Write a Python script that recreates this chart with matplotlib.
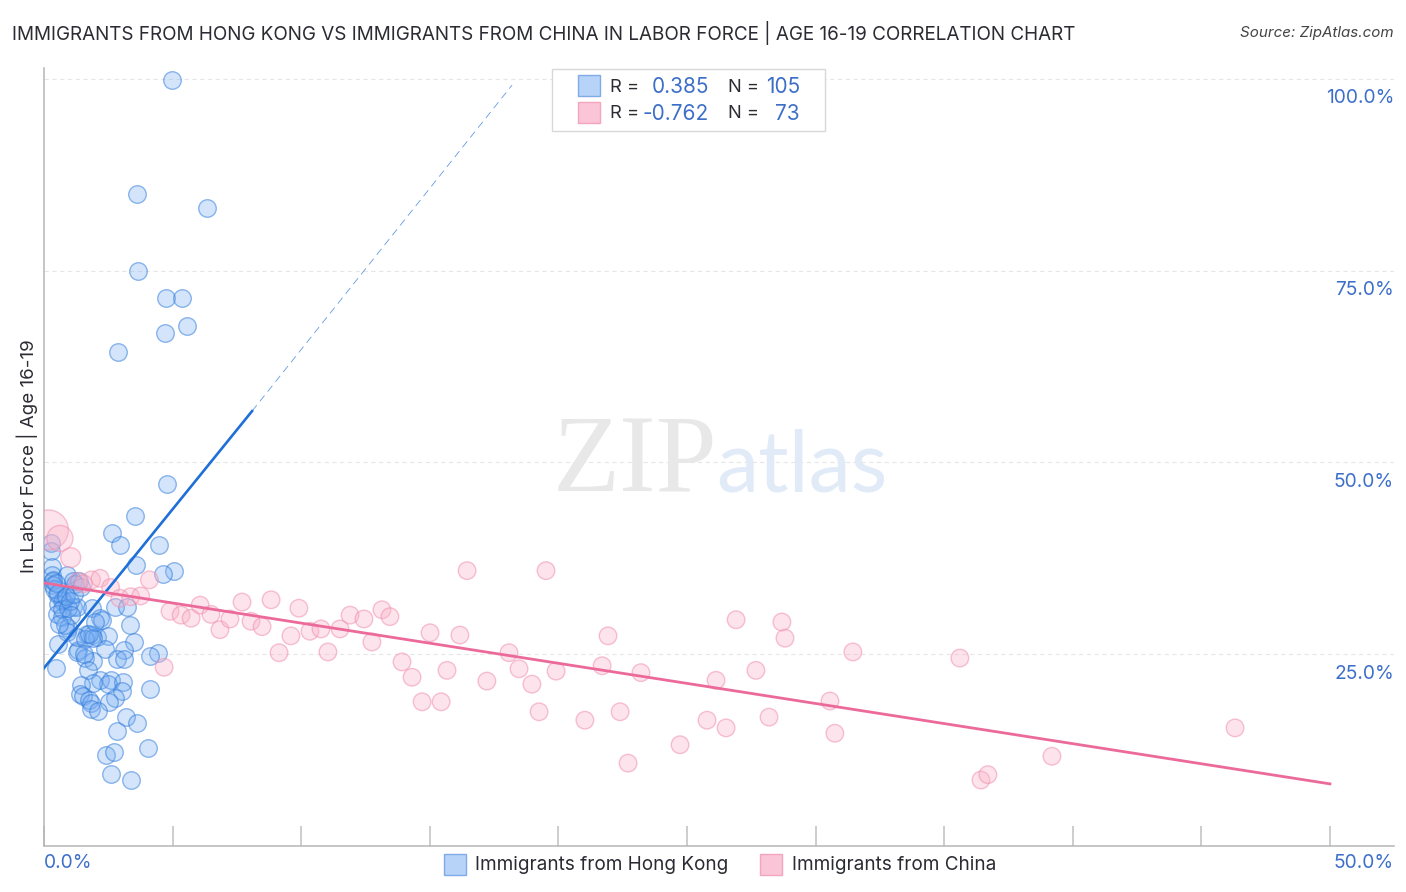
"""Correlation chart: Hong Kong vs China immigrants, labor force age 16-19."""

import matplotlib.pyplot as plt
import matplotlib.patches as mpatches
import numpy as np

plt.rcParams['font.family'] = ['Inter', 'DejaVu Sans']

W, H = 1406, 892

hk_x = [4.98, 3.62, 6.34, 3.65, 4.74, 5.37, 4.70, 5.56, 2.88, 4.78,
        3.54, 2.66, 2.96, 4.46, 3.59, 5.04, 4.61, 0.26, 0.26, 0.30,
        0.30, 0.34, 0.36, 0.36, 0.88, 1.14, 1.37, 1.21, 0.49, 0.82,
        0.75, 0.69, 0.56, 1.14, 1.27, 2.76, 3.24, 1.85, 0.49, 0.69,
        0.95, 0.88, 2.18, 2.24, 3.34, 1.66, 1.85, 2.05, 2.50, 3.50,
        0.56, 1.33, 1.27, 2.37, 3.11, 4.45, 4.12, 2.83, 3.11, 1.59,
        1.92, 0.47, 1.70, 2.18, 2.59, 2.50, 3.06, 1.89, 1.44, 1.40,
        1.50, 3.02, 2.76, 2.54, 4.12, 1.76, 1.81, 1.83, 2.11, 3.19,
        3.63, 2.85, 4.06, 2.41, 2.72, 2.60, 3.38, 0.40, 0.55, 0.70,
        0.95, 0.85, 1.00, 1.15, 1.05, 0.80, 1.30, 1.60, 1.90, 1.75,
        2.00, 1.45, 1.55, 0.60, 0.45]
hk_y = [99.9, 85.0, 83.2, 75.0, 71.4, 71.4, 66.9, 67.8, 64.4, 47.2,
        43.0, 40.8, 39.3, 39.3, 36.6, 35.9, 35.5, 39.5, 38.4, 36.4,
        35.3, 34.5, 34.7, 34.0, 35.3, 34.5, 34.5, 34.2, 32.9, 32.3,
        32.1, 31.9, 31.6, 31.2, 31.2, 31.1, 31.1, 31.0, 30.3, 29.9,
        28.4, 27.9, 29.7, 29.5, 28.8, 27.7, 27.5, 27.3, 27.4, 26.6,
        26.3, 25.6, 25.3, 25.7, 25.6, 25.2, 24.8, 24.4, 24.4, 24.5,
        24.1, 23.2, 22.9, 21.6, 21.7, 21.1, 21.4, 21.2, 21.0, 19.8,
        19.5, 20.2, 19.3, 18.8, 20.5, 19.0, 18.6, 17.9, 17.6, 16.8,
        16.1, 15.0, 12.8, 11.9, 12.2, 9.4, 8.6, 33.5, 33.0, 30.9,
        31.0, 32.6, 32.0, 32.8, 30.1, 28.8, 27.2, 27.0, 27.1, 27.6,
        29.2, 33.8, 25.0, 29.0, 34.3]

china_x = [0.17, 0.62, 1.04, 1.85, 2.18, 2.59, 2.95, 3.37, 3.76, 4.10,
           1.33, 1.53, 4.90, 5.33, 5.72, 6.07, 6.49, 6.84, 4.67, 7.70,
           8.05, 7.23, 8.48, 8.83, 9.14, 9.60, 9.91, 10.34, 10.77, 11.04,
           11.51, 11.90, 12.44, 12.75, 13.14, 13.45, 13.92, 14.31, 14.70, 15.01,
           15.44, 15.67, 16.17, 16.45, 17.22, 18.08, 18.47, 18.97, 19.25, 19.52,
           19.91, 21.03, 21.70, 21.93, 22.40, 22.71, 23.21, 24.73, 25.78, 26.13,
           26.52, 26.91, 27.68, 28.19, 28.69, 28.81, 30.56, 30.75, 31.45, 35.61,
           36.43, 36.70, 39.19, 46.31]
china_y = [41.2, 40.1, 37.6, 34.7, 34.9, 33.7, 32.3, 32.5, 32.6, 34.7,
           34.5, 34.2, 30.6, 30.1, 29.7, 31.4, 30.2, 28.2, 23.3, 31.8,
           29.3, 29.6, 28.6, 32.1, 25.2, 27.4, 31.0, 28.0, 28.3, 25.3,
           28.3, 30.1, 29.6, 26.6, 30.8, 29.9, 24.0, 22.0, 18.8, 27.8,
           18.8, 22.9, 27.5, 35.9, 21.5, 25.2, 23.1, 21.1, 17.5, 35.9,
           22.8, 16.4, 23.5, 27.4, 17.5, 10.8, 22.6, 13.2, 16.4, 21.6,
           15.4, 29.5, 22.9, 16.8, 29.2, 27.1, 18.9, 14.7, 25.3, 24.5,
           8.6, 9.3, 11.7, 15.4]

# trend lines, endpoints
hk_solid_x = [0.0, 8.09]
hk_solid_y = [23.2, 56.7]
hk_dash_x = [8.09, 18.2]
hk_dash_y = [56.7, 99.2]
china_line_x = [0.0, 50.0]
china_line_y = [34.3, 8.1]

y_grid = [25, 50, 75, 100]
y_labels = ["25.0%", "50.0%", "75.0%", "100.0%"]
x_ticks = [0, 5, 10, 15, 20, 25, 30, 35, 40, 45, 50]

BLUE_TXT = '#3d6fc9'
DARK = '#2b2b33'
BLUE_LINE = '#1f6fd8'
PINK_LINE = '#ec6a9a'


def fx(px):
    return px / W


def fy(py):
    return 1 - py / H


fig = plt.figure(figsize=(W / 100, H / 100), dpi=100)
ax = fig.add_axes([fx(44), fy(846), (1394 - 44) / W, (846 - 68) / H])
ax.set_xlim(0, 52.49)
ax.set_ylim(0, 101.43)

for s in ['top', 'right']:
    ax.spines[s].set_visible(False)
for s in ['left', 'bottom']:
    ax.spines[s].set_color('#b5b5b5')
    ax.spines[s].set_linewidth(1.1)

ax.set_xticks(x_ticks)
ax.set_xticklabels([])
ax.set_yticks([])
ax.tick_params(axis='x', direction='in', length=14.4, width=1.1, color='#c0c0c0')

for v in y_grid:
    ax.axhline(v, color='#e6e6e6', linewidth=0.8, linestyle=(0, (4, 3)), zorder=1)

# watermark
fig.text(fx(635), fy(491), "ZIP", fontsize=79, family='Liberation Serif',
         color='#e8e8e8', ha='center', va='baseline', zorder=0)
fig.text(fx(802), fy(491), "atlas", fontsize=61, family='Lato',
         color='#e1ebf8', ha='center', va='baseline', zorder=0)

china_sizes = np.full(len(china_x), 160.0)
china_sizes[0] = 830
china_sizes[1] = 350
china_sizes[2] = 205

ax.scatter(hk_x, hk_y, s=160, facecolor=(0.45, 0.67, 0.95, 0.30),
           edgecolor=(0.18, 0.48, 0.86, 0.52), linewidth=1.0, zorder=3)
ax.scatter(china_x, china_y, s=china_sizes, facecolor=(0.98, 0.70, 0.79, 0.36),
           edgecolor=(0.94, 0.55, 0.68, 0.52), linewidth=1.0, zorder=3)

ax.plot(hk_solid_x, hk_solid_y, color=BLUE_LINE, linewidth=1.9, zorder=4)
ax.plot(hk_dash_x, hk_dash_y, color=BLUE_LINE, linewidth=0.6,
        linestyle=(0, (9, 6)), alpha=0.7, zorder=4)
ax.plot(china_line_x, china_line_y, color=PINK_LINE, linewidth=2.0, zorder=4)

# right hand labels sit just under their gridlines
for v, lab in zip(y_grid, y_labels):
    ax.annotate(lab, xy=(1, v), xycoords=ax.get_yaxis_transform(), xytext=(0, -14),
                textcoords='offset points', ha='right', va='center',
                fontsize=13.8, color=BLUE_TXT)

fig.text(fx(44), fy(863), "0.0%", fontsize=13.8, color=BLUE_TXT, ha='left', va='center')
fig.text(fx(1394), fy(863), "50.0%", fontsize=13.8, color=BLUE_TXT, ha='right', va='center')

fig.text(fx(12), fy(33), "IMMIGRANTS FROM HONG KONG VS IMMIGRANTS FROM CHINA IN LABOR FORCE | AGE 16-19 CORRELATION CHART",
         fontsize=13.61, color=DARK, ha='left', va='center')
fig.text(fx(1394), fy(33), "Source: ZipAtlas.com", fontsize=10.9, style='italic',
         color='#444444', ha='right', va='center')
fig.text(fx(27), fy(456), "In Labor Force | Age 16-19", fontsize=13.5, color=DARK,
         rotation=90, ha='center', va='center')

# stats box
fig.add_artist(mpatches.Rectangle((fx(551.5), fy(130.5)), 273 / W, 62 / H, transform=fig.transFigure,
                                  facecolor='white', edgecolor='#d8d8d8', linewidth=1.0, zorder=5))


def swatch(px, py, face, edge):
    fig.add_artist(mpatches.Rectangle((fx(px), fy(py + 21)), 22 / W, 21 / H, transform=fig.transFigure,
                                      facecolor=face, edgecolor=edge, linewidth=1.0, zorder=6))


swatch(578, 75, '#b7d3f8', '#7fabe6')
swatch(578, 102, '#fbc5d8', '#f3a5c0')
for py, r_val, n_val in [(87, "0.385", "105"), (114, "-0.762", "73")]:
    fig.text(fx(610), fy(py), "R =", fontsize=13.2, color=DARK, va='center', zorder=7)
    fig.text(fx(709), fy(py), r_val, fontsize=15, color=BLUE_TXT, ha='right', va='center', zorder=7)
    fig.text(fx(728), fy(py), "N =", fontsize=13.2, color=DARK, va='center', zorder=7)
    fig.text(fx(800), fy(py), n_val, fontsize=15, color=BLUE_TXT, ha='right', va='center', zorder=7)

# bottom legend
swatch(444, 854, '#b7d3f8', '#7fabe6')
swatch(760, 854, '#fbc5d8', '#f3a5c0')
fig.text(fx(475), fy(865), "Immigrants from Hong Kong", fontsize=13.65, color=DARK, va='center')
fig.text(fx(792), fy(865), "Immigrants from China", fontsize=13.65, color=DARK, va='center')

fig.savefig("out.png", dpi=100)
